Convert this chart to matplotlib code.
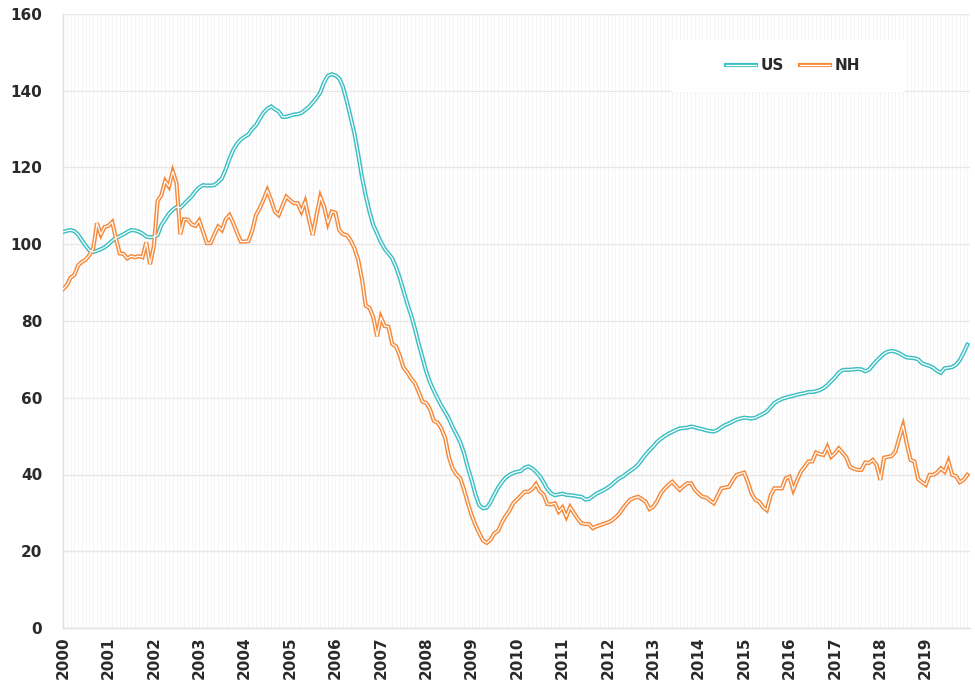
import matplotlib
matplotlib.use("Agg")
import matplotlib.pyplot as plt
from matplotlib.lines import Line2D
from matplotlib.patches import Rectangle
from matplotlib.ticker import MultipleLocator

years = [str(y) for y in range(2000, 2020)]

us = [
    103.2, 103.5, 103.7, 103.4, 102.5, 101.0, 99.6, 98.4, 98.0, 98.3, 98.7, 99.2,
    100.0, 100.9, 101.6, 102.1, 102.6, 103.2, 103.7, 103.6, 103.3, 102.8, 102.0, 101.8,
    101.9, 102.4, 105.0, 106.5, 108.0, 109.0, 109.7, 109.5, 110.5, 111.5, 112.5, 113.8,
    114.8, 115.4, 115.3, 115.3, 115.4, 116.2, 117.2, 119.5, 122.3, 124.6, 126.2, 127.3,
    128.0, 128.6, 130.0, 131.0, 132.7, 134.3, 135.3, 135.9, 135.2, 134.6, 133.2, 133.2,
    133.5, 133.8, 133.9, 134.2, 135.0, 135.8, 136.9, 138.1, 139.6, 142.2, 143.9, 144.3,
    144.0, 143.2, 141.0, 137.3, 133.2, 129.0, 123.5, 117.6, 112.7, 108.5, 105.0, 102.8,
    100.6, 98.8, 97.6, 96.3, 94.1, 91.2, 87.8, 84.5, 81.5, 78.0, 74.0, 70.5,
    66.8, 64.0, 61.8, 59.8, 57.9, 56.3, 54.5, 52.3, 50.4, 48.4, 45.5, 41.8,
    38.5, 34.8, 32.0, 31.2, 31.4, 32.8, 34.8, 36.6, 38.0, 39.2, 39.9, 40.4,
    40.7, 40.9, 41.8, 42.1, 41.6, 40.7, 39.6, 38.0, 36.2, 35.1, 34.6, 34.8,
    35.0, 34.7, 34.6, 34.5, 34.3, 34.2, 33.5, 33.6, 34.3, 35.0, 35.5, 36.0,
    36.6, 37.3, 38.2, 39.0, 39.5, 40.3, 41.0, 41.7, 42.6, 43.9, 45.2, 46.3,
    47.3, 48.5, 49.3, 50.0, 50.6, 51.1, 51.6, 52.0, 52.1, 52.2, 52.5, 52.3,
    52.0, 51.8, 51.5, 51.3, 51.2, 51.6, 52.3, 52.9, 53.3, 53.8, 54.3, 54.6,
    54.8, 54.7, 54.6, 54.8, 55.3, 55.8, 56.4, 57.5, 58.6, 59.2, 59.7, 60.0,
    60.3, 60.5, 60.8, 61.0, 61.2, 61.5, 61.5, 61.7, 62.0, 62.5, 63.3, 64.3,
    65.3, 66.5, 67.2, 67.3, 67.3, 67.4, 67.5, 67.4, 66.9, 67.3, 68.5, 69.6,
    70.6, 71.5, 72.0, 72.2, 72.0, 71.6, 71.0, 70.5, 70.4, 70.3, 70.0, 69.0,
    68.6, 68.3, 67.8, 67.0, 66.5, 67.7, 67.8, 68.0, 68.6, 69.8, 71.7, 73.8,
]

nh = [
    88.3, 89.3, 91.3, 92.0, 94.5, 95.4, 96.0, 97.2, 99.0, 105.5, 102.5, 104.5,
    104.8, 105.8, 101.5, 97.6, 97.5, 96.3, 96.9, 96.6, 96.9, 96.6, 100.5, 94.8,
    99.4, 111.3, 112.8, 116.5, 115.0, 119.0, 116.0, 102.6, 106.5, 106.4, 105.2, 104.8,
    106.2, 103.3, 100.3, 100.3, 102.5, 104.6, 103.7, 106.5, 107.6, 105.5, 103.0, 100.7,
    100.7, 100.8, 103.5, 107.6, 109.4, 111.6, 114.1, 111.5, 108.5, 107.6, 110.0, 112.4,
    111.5, 110.7, 110.7, 108.5, 111.1, 106.5, 102.4, 107.5, 112.4, 109.8, 105.5, 108.5,
    108.2, 103.7, 102.6, 102.4, 101.0, 99.0, 96.0, 91.0, 84.0, 83.4, 81.0, 76.0,
    81.0, 78.7, 78.5, 74.0, 73.4, 71.0, 67.8, 66.6, 65.0, 63.8, 61.5, 59.0,
    58.6, 57.0, 54.0, 53.5, 52.0, 49.5, 44.5, 41.5, 40.0, 39.0, 36.0, 32.5,
    29.4, 26.8, 24.7, 22.8, 22.2, 23.0, 24.7, 25.3, 27.5, 29.2, 30.6, 32.5,
    33.5, 34.5, 35.5, 35.5, 36.2, 37.5, 35.6, 34.8, 32.3, 32.2, 32.5, 30.3,
    31.4, 29.0, 31.5, 30.0, 28.5, 27.3, 27.1, 27.1, 26.0, 26.5, 26.8, 27.2,
    27.5, 28.0, 28.8, 29.8, 31.2, 32.5, 33.5, 33.9, 34.2, 33.6, 32.9, 31.0,
    31.6, 33.0, 35.1, 36.3, 37.3, 38.1, 37.0, 36.0, 37.0, 37.7, 37.7, 36.0,
    35.0, 34.2, 34.0, 33.2, 32.5, 34.5, 36.4, 36.6, 36.8, 38.5, 39.9, 40.2,
    40.5, 38.0, 35.0, 33.4, 32.9, 31.5, 30.7, 34.5, 36.4, 36.4, 36.4, 39.0,
    39.4, 36.0, 38.5, 40.7, 42.0, 43.4, 43.4, 45.7, 45.3, 45.1, 47.2, 44.6,
    45.5, 46.8, 45.7, 44.5, 42.0, 41.5, 41.2, 41.2, 43.1, 43.0, 43.8, 42.5,
    38.6, 44.4, 44.6, 44.8, 46.0, 49.5, 52.8, 48.0, 43.8, 43.4, 38.8, 38.0,
    37.3, 39.9, 39.9, 40.5, 41.6, 40.7, 43.4, 39.9, 39.6, 38.0, 38.6, 39.9,
]

series_names = ["US", "NH"]
colors = ["#3dbfc3", "#f58a3c"]

plt.rcParams['font.family'] = ['DejaVu Sans']

fig = plt.figure(figsize=(9.75, 6.82), dpi=100)
ax = fig.add_axes([63/975, 1 - 628/682, (970 - 63)/975, (628 - 14)/682])

months = list(range(len(us)))
handles = []
for vals, name, col in zip([us, nh], series_names, colors):
    ax.plot(months, vals, color=col, lw=3.0, solid_joinstyle='miter', zorder=3)
    ax.plot(months, vals, color='white', lw=0.9, solid_joinstyle='miter', zorder=4)
    h1 = Line2D([], [], color=col, lw=3.0)
    h2 = Line2D([], [], color='white', lw=0.9)
    handles.append((h1, h2))

ax.set_xlim(0, 239.7)
ax.set_ylim(0, 160)
ax.yaxis.set_major_locator(MultipleLocator(20))
ax.set_xticks(list(range(0, 240, 12)))
ax.set_xticklabels(years, rotation=90, fontsize=11, fontweight='bold', color='#2a2a2a')
ax.xaxis.set_minor_locator(MultipleLocator(1))
for lab in ax.get_yticklabels():
    lab.set_fontsize(11)
    lab.set_fontweight('bold')
    lab.set_color('#2a2a2a')

ax.tick_params(axis='both', which='both', length=0)
ax.tick_params(axis='y', pad=15)
ax.tick_params(axis='x', pad=6)
ax.grid(axis='y', which='major', color='#e8e8e8', lw=1.0, zorder=0)
ax.grid(axis='x', which='minor', color='#ececec', lw=0.7, ls=(0, (1, 1)), zorder=0)
ax.grid(axis='x', which='major', color='#ececec', lw=0.7, ls=(0, (1, 1)), zorder=0)
for s in ['top', 'right']:
    ax.spines[s].set_visible(False)
for s in ['left', 'bottom']:
    ax.spines[s].set_color('#e0e0e0')
    ax.spines[s].set_linewidth(1.0)
ax.set_axisbelow(True)

box = Rectangle((0.671, 0.873), 0.257, 0.085, transform=ax.transAxes,
                facecolor='white', edgecolor='none', zorder=2.5)
ax.add_patch(box)
leg = ax.legend(handles, series_names, loc='center', bbox_to_anchor=(0.805, 0.916),
                ncol=2, frameon=False, handlelength=2.0, columnspacing=1.0,
                handletextpad=0.3, prop={'family': 'DejaVu Sans', 'weight': 'bold', 'size': 11})
for t in leg.get_texts():
    t.set_color('#2a2a2a')

fig.savefig("out.png", dpi=100)
